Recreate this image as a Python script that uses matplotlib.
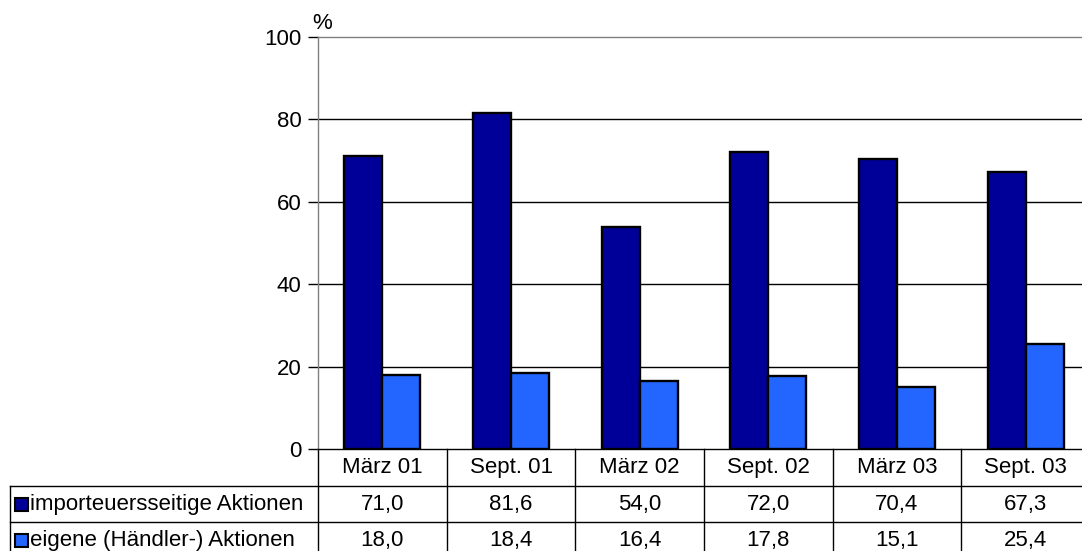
import matplotlib
matplotlib.use("Agg")
import matplotlib.pyplot as plt
import matplotlib.transforms as mtransforms
from matplotlib.patches import Rectangle
from matplotlib.lines import Line2D

plt.rcParams['font.family'] = ['Liberation Sans', 'DejaVu Sans']

categories = ["März 01", "Sept. 01", "März 02", "Sept. 02", "März 03", "Sept. 03"]
importeur = [71.0, 81.6, 54.0, 72.0, 70.4, 67.3]
eigene = [18.0, 18.4, 16.4, 17.8, 15.1, 25.4]
series_names = ["importeuersseitige Aktionen", "eigene (Händler-) Aktionen"]
series_colors = ["#000099", "#2266FF"]
yticks = [0, 20, 40, 60, 80, 100]

FS = 16
W, H = 1082, 551
fig = plt.figure(figsize=(W / 100, H / 100), dpi=100)
ax = fig.add_axes([318 / W, 102 / H, 772 / W, 412 / H])

n = len(categories)
x = list(range(n))
bw = 0.295
ax.bar([i - bw / 2 for i in x], importeur, width=bw, color=series_colors[0],
       edgecolor="black", linewidth=1.7, zorder=3)
ax.bar([i + bw / 2 for i in x], eigene, width=bw, color=series_colors[1],
       edgecolor="black", linewidth=1.7, zorder=3)

ax.set_xlim(-0.5, n - 0.5)
ax.set_ylim(0, 100)
ax.set_yticks(yticks)
ax.set_yticklabels([str(t) for t in yticks], fontsize=FS)
ax.set_xticks([])
ax.tick_params(axis="y", length=7, width=1, color="black", pad=5)
for t in yticks[1:-1]:
    ax.axhline(t, color="black", linewidth=1, zorder=1)
ax.spines["right"].set_visible(False)
ax.spines["top"].set_color("#808080")
ax.spines["left"].set_color("#808080")
ax.spines["bottom"].set_color("black")
for s in ax.spines.values():
    s.set_linewidth(1)

ax.annotate("%", xy=(-0.5, 100), xytext=(-4, 2), textcoords="offset points",
            ha="left", va="bottom", fontsize=FS, annotation_clip=False)

# data table below the plot: x in data units, y in axes fraction
trans = mtransforms.blended_transform_factory(ax.transData, ax.transAxes)
px_x = 1 / 128.7
px_y = 1 / 412
rh = 36.7 * px_y
left_x = -0.5 - 308 * px_x

def hline(x0, x1, y):
    ax.add_line(Line2D([x0, x1], [y, y], transform=trans, color="black",
                       linewidth=1, clip_on=False))

def vline(xv, y0, y1):
    ax.add_line(Line2D([xv, xv], [y0, y1], transform=trans, color="black",
                       linewidth=1, clip_on=False))

# header row with category names
for i in range(n + 1):
    vline(i - 0.5, 0, -3 * rh)
for i, c in enumerate(categories):
    ax.text(i, -0.5 * rh, c, transform=trans, ha="center", va="center", fontsize=FS)

# data rows with legend keys
hline(left_x, n - 0.5, -rh)
hline(left_x, n - 0.5, -2 * rh)
vline(left_x, -rh, -3 * rh)
rows = [importeur, eigene]
for r, (vals, name, col) in enumerate(zip(rows, series_names, series_colors)):
    yc = -(r + 1.5) * rh
    ax.add_patch(Rectangle((left_x + 5 * px_x, yc - 6.5 * px_y), 13 * px_x, 13 * px_y,
                           transform=trans, facecolor=col, edgecolor="black",
                           linewidth=1.5, clip_on=False))
    ax.text(left_x + 20 * px_x, yc, name, transform=trans, ha="left",
            va="center", fontsize=FS)
    for i, v in enumerate(vals):
        ax.text(i, yc, f"{v:.1f}".replace(".", ","), transform=trans,
                ha="center", va="center", fontsize=FS)

fig.savefig("out.png", dpi=100)
